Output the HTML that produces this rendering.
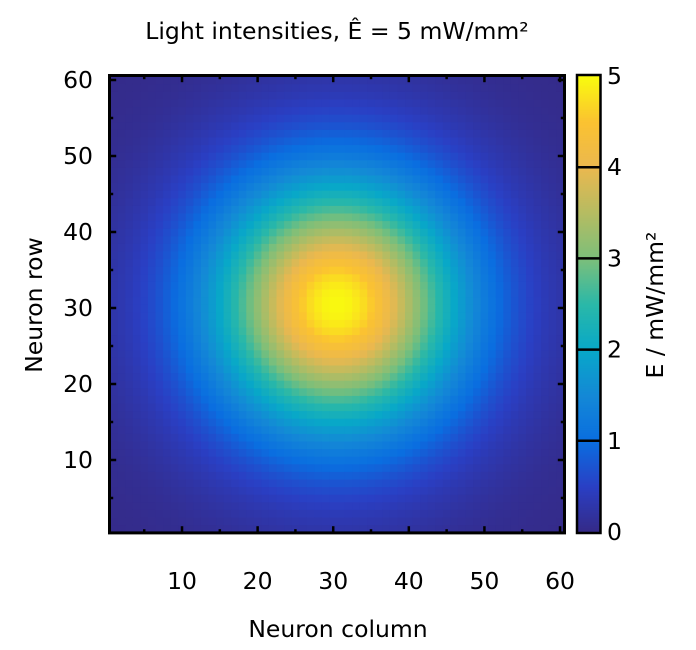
<!DOCTYPE html>
<html><head><meta charset="utf-8"><style>
body{margin:0;background:#fff;}
svg{display:block;font-family:"DejaVu Sans","Liberation Sans",sans-serif;}
</style></head><body>
<svg id="chart" width="696" height="650">
<text x="337" y="39" font-size="23.5" text-anchor="middle">Light intensities, Ê = 5 mW/mm²</text>
<g id="cells"></g>
<g id="cbar"></g>
<g id="axes"></g>
<text x="338" y="637" font-size="23.5" text-anchor="middle">Neuron column</text>
<text transform="translate(42,305) rotate(-90)" font-size="23.5" text-anchor="middle">Neuron row</text>
<text transform="translate(663,305) rotate(-90)" font-size="23.5" text-anchor="middle">E / mW/mm²</text>
</svg>
<script>
const gridSize = 60;
const centerCol = [30.5];
const centerRow = [30.5];
// radial intensity profile (mW/mm²) at distances 0,2,4,... cells
const profileRadius = [0,2,4,6,8,10,12,14,16,18,20,22,24,26,28,30,32,34,36,38,40,42,44];
const profileValue = [5.0,4.92,4.67,4.29,3.80,3.30,2.81,2.33,1.90,1.52,1.18,0.90,0.67,0.50,0.36,0.26,0.18,0.12,0.08,0.06,0.04,0.03,0.02];
const xTicks = [10,20,30,40,50,60];
const yTicks = [10,20,30,40,50,60];
const cTicks = [0,1,2,3,4,5];
const cmapPos = [0,0.1,0.2,0.3,0.4,0.5,0.6,0.7,0.8,0.9,1];
const cmapCol = ["#352a87","#2a3fc4","#0a6ee0","#1488d6","#08a8c8","#2ab8a8","#7cbf7a","#b5bc62","#eab84f","#fbc231","#f9fb0e"];

const NS="http://www.w3.org/2000/svg";
const X0=110.2,X1=563.8,Y0=532.2,Y1=76.2;
const xs=v=>X0+(v-0.5)/60*(X1-X0);
const ys=v=>Y0-(v-0.5)/60*(Y0-Y1);
const cy=v=>532-v/5*(532-76);
function hex(h){return [1,3,5].map(i=>parseInt(h.substr(i,2),16));}
function color(v){let t=Math.max(0,Math.min(1,v/5));
 for(let i=0;i<cmapPos.length-1;i++){if(t<=cmapPos[i+1]){const f=(t-cmapPos[i])/(cmapPos[i+1]-cmapPos[i]);
 const a=hex(cmapCol[i]),b=hex(cmapCol[i+1]);return `rgb(${a.map((c,k)=>Math.round(c+(b[k]-c)*f)).join(",")})`;}}
 return cmapCol[cmapCol.length-1];}
function profile(r){for(let i=0;i<profileRadius.length-1;i++){if(r<=profileRadius[i+1]){const f=(r-profileRadius[i])/(profileRadius[i+1]-profileRadius[i]);return profileValue[i]+(profileValue[i+1]-profileValue[i])*f;}}return profileValue[profileValue.length-1];}
function el(t,a,p){const e=document.createElementNS(NS,t);for(const k in a)e.setAttribute(k,a[k]);p.appendChild(e);return e;}
const cells=document.getElementById('cells');
for(let c=1;c<=gridSize;c++)for(let r=1;r<=gridSize;r++){
 const v=profile(Math.hypot(c-centerCol[0],r-centerRow[0]));
 const e=el('rect',{x:xs(c-0.5),y:ys(r+0.5),width:xs(c+0.5)-xs(c-0.5)+0.5,height:ys(r-0.5)-ys(r+0.5)+0.5,fill:color(v)},cells);
 
 
}
const ax=document.getElementById('axes');
el('rect',{x:X0-0.7,y:Y1-0.7,width:X1-X0+1.4,height:Y0-Y1+1.4,fill:"none",stroke:"#000","stroke-width":3},ax);
for(let v=5;v<=60;v+=5){const maj=v%10===0,L=maj?6:3;
 el('line',{x1:xs(v),x2:xs(v),y1:Y0,y2:Y0-L,stroke:"#000","stroke-width":2.5},ax);
 el('line',{x1:xs(v),x2:xs(v),y1:Y1,y2:Y1+L,stroke:"#000","stroke-width":2.5},ax);
 el('line',{y1:ys(v),y2:ys(v),x1:X0,x2:X0+L,stroke:"#000","stroke-width":2.5},ax);
 el('line',{y1:ys(v),y2:ys(v),x1:X1,x2:X1-L,stroke:"#000","stroke-width":2.5},ax);}
xTicks.forEach(v=>{const t=el('text',{x:xs(v),y:589,"font-size":23.5,"text-anchor":"middle"},ax);t.textContent=v;
 
 });
yTicks.forEach(v=>{const t=el('text',{x:93,y:ys(v)+8,"font-size":23.5,"text-anchor":"end"},ax);t.textContent=v;
 
 });
const cb=document.getElementById('cbar');
for(let i=0;i<228;i++){const v=i/228*5;el('rect',{x:578,y:cy(v+5/228),width:22,height:(532-76)/228+0.6,fill:color(v+2.5/228)},cb);}
cTicks.forEach(v=>{if(v>0&&v<5)el('line',{x1:578,x2:600,y1:cy(v),y2:cy(v),stroke:"#000","stroke-width":2.5},cb);
 const t=el('text',{x:607,y:cy(v)+8,"font-size":23.5},cb);t.textContent=v;
 
 });
el('rect',{x:577,y:75,width:23.5,height:458,fill:"none",stroke:"#000","stroke-width":2.5},cb);
</script>
</body></html>
